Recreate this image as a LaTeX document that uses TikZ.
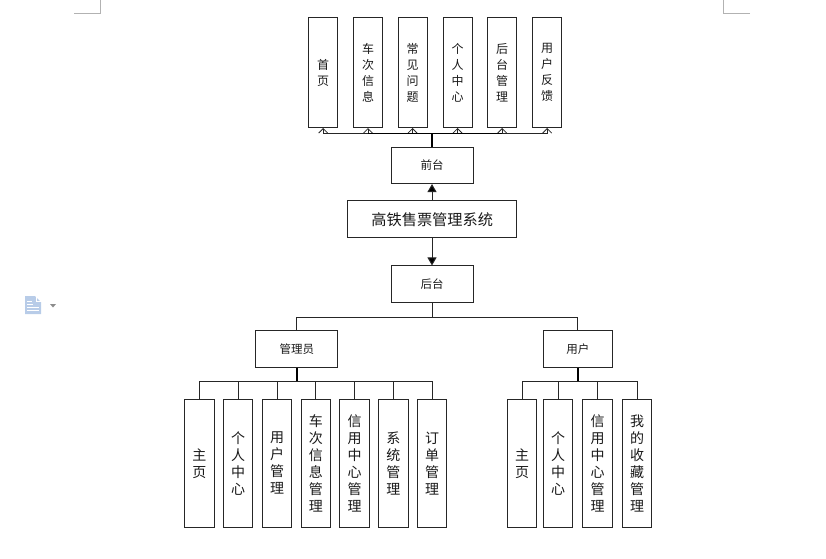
\documentclass[tikz,border=0pt]{standalone}
\usepackage{fontspec}
\setmainfont{Noto Sans CJK SC}
\usetikzlibrary{arrows.meta,positioning}
\tikzset{
  x=1pt,y=-1pt,
  ln/.style={draw=black!85,line width=1pt},
  boxbase/.style={ln,fill=white,inner sep=0pt,align=center,text=black!90},
  topbox/.style={boxbase,minimum width=29pt,minimum height=110pt,font=\fontsize{12}{16}\selectfont},
  lowbox/.style={boxbase,minimum width=29.5pt,minimum height=127.5pt,font=\fontsize{14}{17}\selectfont},
  midbox/.style={boxbase,minimum width=82pt,minimum height=36.5pt,font=\fontsize{11.5}{13}\selectfont},
  titlebox/.style={boxbase,minimum width=169pt,minimum height=36.5pt,font=\fontsize{15.2}{17}\selectfont},
  userbox/.style={boxbase,minimum width=69pt,minimum height=36.5pt,font=\fontsize{11.5}{13}\selectfont},
  barb/.style={ln,line width=1pt,-{Straight Barb[length=4.5pt,width=9pt,line width=.8pt]}},
  solidarrow/.style={ln,-{Triangle[length=8pt,width=9pt,fill=black]}},
  heavy/.style={draw=black,line width=1.7pt},
  busline/.style={draw=black,line width=1.2pt},
  cornermark/.style={draw=black!30,line width=.8pt}
}
\begin{document}
\begin{tikzpicture}
\useasboundingbox (0,0) rectangle (826,558);
% page corner marks
\coordinate (cl1) at (74,13.3); \coordinate (cl2) at (100.7,13.3); \coordinate (cl3) at (100.7,0);
\coordinate (cr1) at (750,13.3); \coordinate (cr2) at (723.3,13.3); \coordinate (cr3) at (723.3,0);
\draw[cornermark] (cl1) -- (cl2) -- (cl3);
\draw[cornermark] (cr1) -- (cr2) -- (cr3);
% document icon
\fill[fill={rgb,255:red,184;green,204;blue,232}] (25,296) -- (35,296) -- (41,302) -- (41,314) -- (25,314) -- cycle;
\draw[white,line width=1pt] (36,296.5) -- (36,301.5) -- (41,301.5);
\draw[white,line width=1pt] (27,301) -- (32,301) (27,304) -- (33,304) (27,307) -- (39,307) (27,310) -- (39,310);
\fill[black!45] (50,304) -- (56,304) -- (53,307.5) -- cycle;
% top row
\node[topbox] (t1) at (323.2,72.5) {首\\页};
\node[topbox] (t2) at (368,72.5) {车\\次\\信\\息};
\node[topbox] (t3) at (412.5,72.5) {常\\见\\问\\题};
\node[topbox] (t4) at (457.5,72.5) {个\\人\\中\\心};
\node[topbox] (t5) at (502.2,72.5) {后\\台\\管\\理};
\node[topbox] (t6) at (547.2,72.5) {用\\户\\反\\馈};
% centre column
\node[midbox] (qt) at (432,165.3) {前台};
\node[titlebox] (sys) at (432.2,219.2) {高铁售票管理系统};
\node[midbox] (ht) at (432,284.2) {后台};
% second level
\node[midbox] (adm) at (296.8,349) {管理员};
\node[userbox] (usr) at (577.8,349) {用户};
% admin children
\node[lowbox] (a1) at (199.3,463.4) {主\\页};
\node[lowbox] (a2) at (238,463.4) {个\\人\\中\\心};
\node[lowbox] (a3) at (277,463.4) {用\\户\\管\\理};
\node[lowbox] (a4) at (315.8,463.4) {车\\次\\信\\息\\管\\理};
\node[lowbox] (a5) at (354.5,463.4) {信\\用\\中\\心\\管\\理};
\node[lowbox] (a6) at (393.3,463.4) {系\\统\\管\\理};
\node[lowbox] (a7) at (432,463.4) {订\\单\\管\\理};
% user children
\node[lowbox] (u1) at (522,463.4) {主\\页};
\node[lowbox] (u2) at (558,463.4) {个\\人\\中\\心};
\node[lowbox] (u3) at (597.7,463.4) {信\\用\\中\\心\\管\\理};
\node[lowbox] (u4) at (637,463.4) {我\\的\\收\\藏\\管\\理};
% junctions
\coordinate (jt) at (qt.north |- 0,133.7);
\coordinate (jb) at (ht.south |- 0,317);
\coordinate (ja) at (adm.south |- 0,381);
\coordinate (ju) at (usr.south |- 0,381);
% front-end bus
\foreach \n in {t1,t2,t3,t4,t5,t6} \draw[barb] (jt) -| (\n.south);
\draw[heavy] (qt.north) -- (jt);
\draw[busline] (t2.south |- jt) -- (t5.south |- jt);
% system to front/back
\draw[solidarrow] (sys.north -| qt.south) -- (qt.south);
\draw[solidarrow] (sys.south -| ht.north) -- (ht.north);
% back-end bus
\draw[ln] (ht.south) -- (jb);
\draw[ln] (jb) -| (adm.north);
\draw[ln] (jb) -| (usr.north);
% admin bus
\draw[heavy] (adm.south) -- (ja);
\foreach \n in {a1,a2,a3,a4,a5,a6,a7} \draw[ln] (ja) -| (\n.north);
% user bus
\draw[heavy] (usr.south) -- (ju);
\foreach \n in {u1,u2,u3,u4} \draw[ln] (ju) -| (\n.north);
\end{tikzpicture}
\end{document}
